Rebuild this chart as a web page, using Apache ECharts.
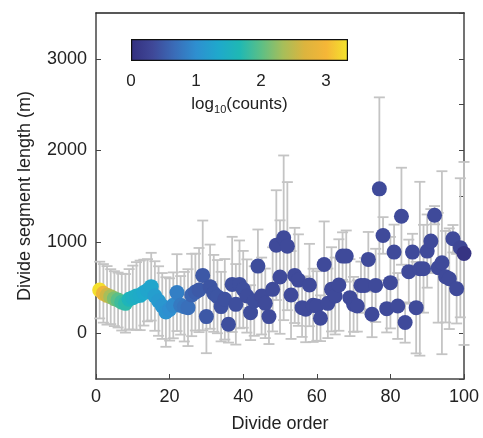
<!DOCTYPE html>
<html>
<head>
<meta charset="utf-8">
<script src="https://cdn.jsdelivr.net/npm/echarts@6/dist/echarts.min.js"></script>
<style>
  html, body { margin: 0; padding: 0; background: #fff; }
  #chart { width: 483px; height: 438px; }
</style>
</head>
<body>
<div id="chart"></div>
<script>
// divide order 1..100
var orders = [];
for (var k = 1; k <= 100; k++) orders.push(k);

// mean divide segment length (m)
var lengths = [
  472, 436, 414, 400, 378, 363, 340, 327, 371, 389,
  407, 414, 444, 470, 509, 407, 352, 298, 232, 260,
  305, 444, 305, 290, 280, 418, 450, 472, 632, 182,
  509, 436, 400, 291, 371, 98, 534, 316, 534, 480,
  407, 225, 352, 734, 407, 327, 182, 480, 963, 614,
  1043, 952, 418, 632, 581, 280, 262, 527, 305, 298,
  164, 752, 327, 480, 407, 527, 843, 843, 389, 316,
  298, 523, 523, 807, 207, 523, 1578, 1069, 269, 553,
  887, 298, 1279, 117, 673, 887, 280, 705, 705, 898,
  1007, 1290, 716, 771, 618, 596, 1033, 487, 934, 872
];

// half length of the error bar (m)
var errors = [
  310, 320, 320, 300, 300, 300, 310, 320, 330, 350,
  370, 380, 360, 340, 370, 380, 380, 360, 380, 340,
  360, 420, 320, 380, 420, 450, 420, 460, 600, 400,
  460, 420, 400, 380, 440, 200, 520, 440, 480, 420,
  400, 300, 380, 400, 420, 380, 300, 460, 600, 620,
  900, 700, 480, 520, 500, 320, 360, 450, 400, 380,
  250, 470, 380, 460, 420, 500, 260, 280, 420, 300,
  280, 260, 300, 300, 250, 400, 1000, 200, 260, 500,
  300, 360, 530, 220, 350, 200, 500, 950, 480, 400,
  350, 100, 600, 1000, 500, 550, 150, 380, 760, 1000
];

// log10(counts) for each divide order
var logCounts = [
  3.3, 2.9, 2.6, 2.35, 2.15, 2.0, 1.85, 1.75, 1.6, 1.5,
  1.45, 1.4, 1.35, 1.3, 1.3, 1.2, 1.15, 1.1, 1.05, 1.0,
  0.95, 0.85, 0.8, 0.75, 0.7, 0.6, 0.55, 0.5, 0.48, 0.48,
  0.45, 0.45, 0.45, 0.42, 0.42, 0.4, 0.4, 0.4, 0.4, 0.4,
  0.38, 0.38, 0.38, 0.38, 0.36, 0.36, 0.36, 0.36, 0.35, 0.35,
  0.35, 0.35, 0.35, 0.35, 0.35, 0.35, 0.35, 0.35, 0.35, 0.35,
  0.35, 0.35, 0.35, 0.35, 0.35, 0.35, 0.35, 0.35, 0.35, 0.35,
  0.35, 0.35, 0.35, 0.35, 0.35, 0.35, 0.35, 0.35, 0.35, 0.35,
  0.35, 0.35, 0.35, 0.35, 0.35, 0.35, 0.35, 0.35, 0.35, 0.35,
  0.35, 0.35, 0.35, 0.35, 0.35, 0.35, 0.35, 0.35, 0.3, 0.05
];

var xTicks = [0, 20, 40, 60, 80, 100];
var yTicks = [0, 1000, 2000, 3000];
var cbTicks = [0, 1, 2, 3];
var cbMax = 3.34;

// parula-like colormap
var parula = ['#34307f', '#3f4898', '#3a6cb8', '#2e8fd0', '#1fa8cc', '#1fb8b4',
              '#5cbf86', '#a6be5a', '#dcb43e', '#f5b637', '#f4e52c'];

var FONT = "'Liberation Sans', Arial, sans-serif";

var points = orders.map(function (o, i) { return [o, lengths[i], logCounts[i]]; });
var bars = orders.map(function (o, i) { return [o, lengths[i] - errors[i], lengths[i] + errors[i]]; });

var stops = parula.map(function (c, i) { return { offset: i / (parula.length - 1), color: c }; });

var chart = echarts.init(document.getElementById('chart'));
chart.setOption({
  animation: false,
  textStyle: { fontFamily: FONT },
  grid: [
    { left: 96, top: 13, right: 19, bottom: 58 },
    { left: 131, top: 39, width: 217, height: 22 }
  ],
  xAxis: [
    {
      gridIndex: 0, type: 'value', min: 0, max: 100, interval: 20,
      name: 'Divide order', nameLocation: 'middle', nameGap: 36,
      nameTextStyle: { fontSize: 18, color: '#222', fontFamily: FONT },
      axisLine: { onZero: false, lineStyle: { color: '#444', width: 1.5 } },
      axisTick: { inside: true, length: 5, customValues: xTicks, lineStyle: { color: '#444' } },
      axisLabel: { fontSize: 18, color: '#222', margin: 9, customValues: xTicks, fontFamily: FONT },
      splitLine: { show: false }
    },
    {
      gridIndex: 0, type: 'value', min: 0, max: 100, position: 'top',
      axisLine: { show: true, onZero: false, lineStyle: { color: '#222', width: 1.5 } },
      axisTick: { show: false }, axisLabel: { show: false }, splitLine: { show: false }
    },
    {
      gridIndex: 1, type: 'value', min: 0, max: cbMax, interval: 1,
      name: '{b|log}{s|10}{b|(counts)}', nameLocation: 'middle', nameGap: 33,
      nameTextStyle: {
        rich: {
          b: { fontSize: 17, color: '#222', fontFamily: FONT },
          s: { fontSize: 11, color: '#222', fontFamily: FONT, verticalAlign: 'bottom', padding: [10, 0, 0, 0] }
        }
      },
      axisLine: { show: false },
      axisTick: { inside: true, length: 3, customValues: cbTicks, lineStyle: { color: '#333' } },
      axisLabel: { fontSize: 17, color: '#222', margin: 12, customValues: cbTicks, fontFamily: FONT },
      splitLine: { show: false }
    }
  ],
  yAxis: [
    {
      gridIndex: 0, type: 'value', min: -500, max: 3500, interval: 500,
      name: 'Divide segment length (m)', nameLocation: 'middle', nameGap: 62,
      nameTextStyle: { fontSize: 18, color: '#222', fontFamily: FONT },
      axisLine: { show: true, onZero: false, lineStyle: { color: '#444', width: 1.5 } },
      axisTick: { inside: true, length: 5, customValues: yTicks, lineStyle: { color: '#444' } },
      axisLabel: { fontSize: 18, color: '#222', margin: 9, customValues: yTicks, fontFamily: FONT,
        formatter: function (v) { return String(v); } },
      splitLine: { show: false }
    },
    {
      gridIndex: 0, type: 'value', min: -500, max: 3500, interval: 500, position: 'right',
      axisLine: { show: true, onZero: false, lineStyle: { color: '#444', width: 1.5 } },
      axisTick: { inside: true, length: 5, lineStyle: { color: '#444' } },
      axisLabel: { show: false }, splitLine: { show: false }
    },
    {
      gridIndex: 1, type: 'category', data: ['cb'],
      axisLine: { show: false }, axisTick: { show: false }, axisLabel: { show: false }
    }
  ],
  visualMap: {
    type: 'continuous', show: false, min: 0, max: cbMax, dimension: 2,
    seriesIndex: 1, inRange: { color: parula }
  },
  series: [
    {
      type: 'custom', xAxisIndex: 0, yAxisIndex: 0, z: 2,
      data: bars,
      renderItem: function (params, api) {
        var x = api.value(0);
        var lo = api.coord([x, api.value(1)]);
        var hi = api.coord([x, api.value(2)]);
        var hw = 5.5;
        var style = { stroke: '#c4c4c4', lineWidth: 1.8 };
        return {
          type: 'group',
          children: [
            { type: 'line', shape: { x1: lo[0], y1: lo[1], x2: hi[0], y2: hi[1] }, style: style },
            { type: 'line', shape: { x1: lo[0] - hw, y1: lo[1], x2: lo[0] + hw, y2: lo[1] }, style: style },
            { type: 'line', shape: { x1: hi[0] - hw, y1: hi[1], x2: hi[0] + hw, y2: hi[1] }, style: style }
          ]
        };
      }
    },
    {
      type: 'scatter', xAxisIndex: 0, yAxisIndex: 0, z: 3,
      symbol: 'circle', symbolSize: 15,
      itemStyle: { opacity: 1 },
      data: points
    },
    {
      type: 'bar', xAxisIndex: 2, yAxisIndex: 2, barWidth: '100%',
      data: [cbMax],
      itemStyle: {
        color: new echarts.graphic.LinearGradient(0, 0, 1, 0, stops),
        borderColor: '#111', borderWidth: 1.2
      },
      silent: true
    }
  ]
});
</script>
</body>
</html>
